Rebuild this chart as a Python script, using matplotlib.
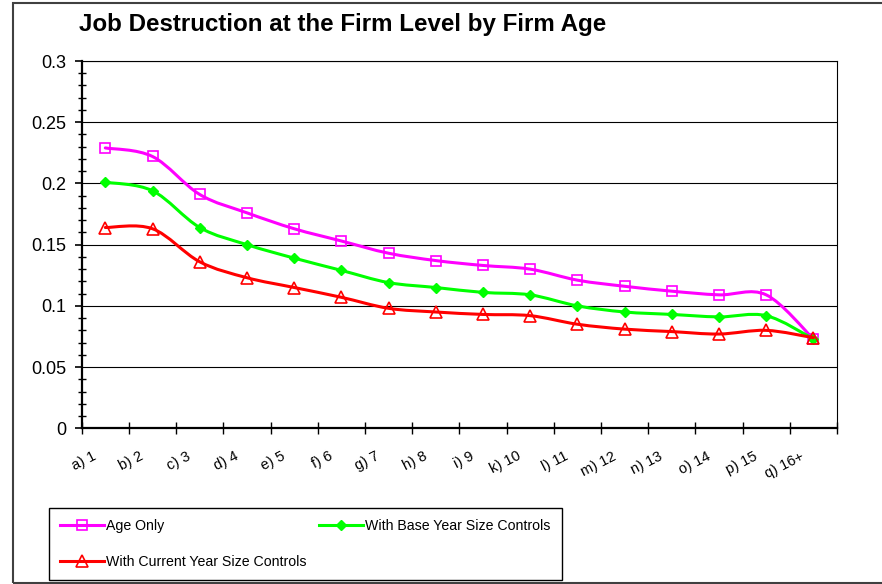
import numpy as np
import matplotlib.pyplot as plt
from matplotlib.path import Path
from matplotlib.patches import PathPatch, Rectangle
from matplotlib.lines import Line2D
from matplotlib.transforms import ScaledTranslation

plt.rcParams['font.family'] = ['Liberation Sans', 'DejaVu Sans']

categories = ['a) 1', 'b) 2', 'c) 3', 'd) 4', 'e) 5', 'f) 6', 'g) 7', 'h) 8',
              'i) 9', 'k) 10', 'l) 11', 'm) 12', 'n) 13', 'o) 14', 'p) 15', 'q) 16+']
age_only = [0.229, 0.222, 0.191, 0.176, 0.163, 0.153, 0.143, 0.137,
            0.133, 0.130, 0.121, 0.116, 0.112, 0.109, 0.109, 0.073]
base_year = [0.201, 0.194, 0.164, 0.150, 0.139, 0.129, 0.119, 0.115,
             0.111, 0.109, 0.100, 0.095, 0.093, 0.091, 0.092, 0.073]
current_year = [0.164, 0.163, 0.136, 0.123, 0.115, 0.107, 0.098, 0.095,
                0.093, 0.092, 0.085, 0.081, 0.079, 0.077, 0.080, 0.074]
y_ticks = [0, 0.05, 0.1, 0.15, 0.2, 0.25, 0.3]
y_tick_labels = ['0', '0.05', '0.1', '0.15', '0.2', '0.25', '0.3']


def smooth_path(xs, ys):
    # Excel-style smoothed line: Catmull-Rom segments as cubic beziers
    pts = np.column_stack([xs, ys]).astype(float)
    n = len(pts)
    verts = [pts[0]]
    codes = [Path.MOVETO]
    for i in range(n - 1):
        p0 = pts[max(i - 1, 0)]
        p1 = pts[i]
        p2 = pts[i + 1]
        p3 = pts[min(i + 2, n - 1)]
        verts += [p1 + (p2 - p0) / 6, p2 - (p3 - p1) / 6, p2]
        codes += [Path.CURVE4] * 3
    return Path(verts, codes)


fig = plt.figure(figsize=(8.82, 5.84), dpi=100)
W, H = 882, 584
ax = fig.add_axes([81.7 / W, 1 - 428.3 / H, (837 - 81.7) / W, (428.3 - 61) / H])

x = np.arange(len(categories))
series = [
    ('Age Only', age_only, '#FF00FF', dict(marker='s', markersize=7, markerfacecolor='none', markeredgewidth=1.2)),
    ('With Base Year Size Controls', base_year, '#00FF00', dict(marker='D', markersize=5.5, markerfacecolor='#00FF00', markeredgewidth=1)),
    ('With Current Year Size Controls', current_year, '#FF0000', dict(marker='^', markersize=8.5, markerfacecolor='none', markeredgewidth=1.2)),
]

handles = {}
for i, (name, vals, col, mk) in enumerate(series):
    ax.add_patch(PathPatch(smooth_path(x, vals), facecolor='none', edgecolor=col,
                           lw=2.2, zorder=3 + i, capstyle='round', joinstyle='round'))
    ax.plot(x, vals, ls='none', color=col, markeredgecolor=col, zorder=3 + i, **mk)
    handles[name] = Line2D([], [], color=col, lw=2.2, markeredgecolor=col, **mk)

ax.set_xlim(-0.5, len(categories) - 0.5)
ax.set_ylim(0, 0.3)

ax.set_yticks(y_ticks)
ax.set_yticklabels(y_tick_labels, fontsize=13)
ax.set_yticks(np.arange(0, 0.3001, 0.01), minor=True)
ax.tick_params(axis='y', which='major', direction='out', length=5, width=1.2, pad=6)
ax.tick_params(axis='y', which='minor', direction='inout', length=6, width=1)

ax.set_xticks(np.arange(-0.5, len(categories)), labels=[])
ax.set_xticks(x, minor=True)
ax.set_xticklabels(categories, minor=True, fontsize=10.5, rotation=27,
                   ha='right', va='top', rotation_mode='anchor')
ax.tick_params(axis='x', which='major', direction='inout', length=8, width=1)
ax.tick_params(axis='x', which='minor', length=0, pad=15)
for lab in ax.get_xticklabels(minor=True):
    lab.set_transform(lab.get_transform() + ScaledTranslation(-13 / 100, 0, fig.dpi_scale_trans))

ax.yaxis.grid(True, which='major', color='black', lw=0.8)
ax.set_axisbelow(True)
for side in ['left', 'bottom']:
    ax.spines[side].set_linewidth(1.6)
for side in ['top', 'right']:
    ax.spines[side].set_linewidth(0.8)

fig.text(79 / W, 1 - 25 / H, 'Job Destruction at the Firm Level by Firm Age',
         fontsize=17.4, fontweight='bold', ha='left', va='center')

leg = fig.legend(handles=[handles['Age Only'], handles['With Current Year Size Controls'],
                          handles['With Base Year Size Controls']],
                 labels=['Age Only', 'With Current Year Size Controls', 'With Base Year Size Controls'],
                 ncol=2, loc='upper left', mode='expand',
                 bbox_to_anchor=(49 / W, 1 - 579 / H, 513 / W, 71 / H), bbox_transform=fig.transFigure,
                 fancybox=False, edgecolor='black', framealpha=1, fontsize=10.2,
                 handlelength=3.1, handletextpad=0.15, labelspacing=1.5, borderpad=0.8,
                 borderaxespad=0)
leg.get_frame().set_linewidth(1.0)

fig.add_artist(Rectangle((13 / W, 1 - 582.5 / H), 1.0, 579.5 / H, transform=fig.transFigure,
                         fill=False, edgecolor='#404040', lw=1.5, clip_on=False))

fig.savefig('out.png', dpi=100)
